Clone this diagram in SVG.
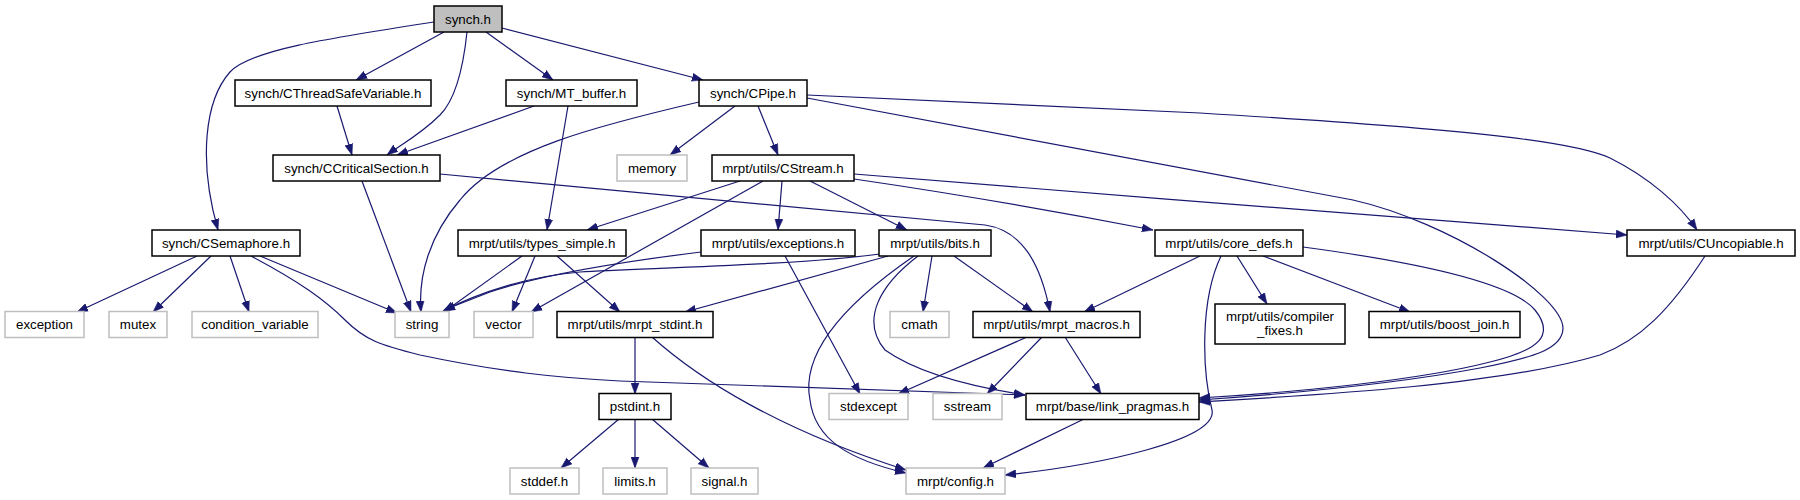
<svg xmlns="http://www.w3.org/2000/svg" width="1800" height="500" viewBox="0 0 1800 500">
<style>
.n rect{fill:#ffffff;stroke:#000000;stroke-width:1.5}
.g rect{fill:#ffffff;stroke:#bfbfbf;stroke-width:1.5}
.r rect{fill:#bfbfbf;stroke:#000000;stroke-width:1.5}
text{font-family:"Liberation Sans",Arial,sans-serif;font-size:13.33px;fill:#000000;text-anchor:middle}
#edges path{fill:none;stroke:#191970;stroke-width:1.2;marker-end:url(#ah)}
</style>
<defs>
<marker id="ah" markerUnits="userSpaceOnUse" markerWidth="11" markerHeight="9" viewBox="0 0 11 8" refX="11" refY="4" orient="auto">
<path d="M0,0 L11,4 L0,8 z" fill="#191970" stroke="#191970" stroke-width="0.5"/>
</marker>
</defs>
<rect width="1800" height="500" fill="#ffffff"/>
<g id="edges">
<path d="M434,22 C330,38 250,50 230,72 C205,100 198,160 218,230"/>
<path d="M444,32 L356,80"/>
<path d="M467,32 C463,70 455,100 440,115 C420,135 400,145 387,155"/>
<path d="M486,32 L553,80"/>
<path d="M502,28 L703,80"/>
<path d="M337,106 L352,155"/>
<path d="M534,106 L397,155"/>
<path d="M568,106 L547,230"/>
<path d="M699,102 C600,125 500,150 460,200 C430,235 418,275 421,312"/>
<path d="M735,106 L670,155"/>
<path d="M758,106 L778,155"/>
<path d="M807,98 L1353,200 C1450,222 1562,295 1563,328 C1563,350 1530,358 1480,368 C1400,383 1300,393 1199,400"/>
<path d="M807,95 L1200,113 C1450,128 1570,140 1610,158 C1650,178 1680,205 1697,230"/>
<path d="M362,181 L411,312"/>
<path d="M440,174 L985,225 C1020,230 1040,260 1050,312"/>
<path d="M740,181 L587,230"/>
<path d="M763,181 L531,312"/>
<path d="M782,181 L778,230"/>
<path d="M810,181 L907,230"/>
<path d="M854,179 C950,193 1060,212 1153,230"/>
<path d="M854,174 C1100,195 1450,220 1627,235"/>
<path d="M197,256 L77,312"/>
<path d="M211,256 L153,312"/>
<path d="M230,256 L249,312"/>
<path d="M260,256 L397,313"/>
<path d="M251,256 C300,282 325,300 345,320 C365,340 380,345 420,355 C500,372 560,378 620,381 L1025,395"/>
<path d="M522,256 L444,312"/>
<path d="M535,256 L512,312"/>
<path d="M557,256 L620,312"/>
<path d="M701,252 C620,262 540,275 490,292 L444,310"/>
<path d="M785,256 L860,394"/>
<path d="M880,254 C800,265 650,268 580,272 C530,276 480,292 443,311"/>
<path d="M888,256 L685,312"/>
<path d="M932,256 L923,312"/>
<path d="M954,256 L1033,312"/>
<path d="M918,256 C880,285 860,320 885,350 C920,375 980,388 1025,395"/>
<path d="M914,256 C850,300 800,350 810,400 C815,440 850,460 906,473"/>
<path d="M1200,256 L1084,312"/>
<path d="M1237,256 L1267,304"/>
<path d="M1263,256 L1410,312"/>
<path d="M1303,247 C1400,260 1510,280 1535,310 C1555,335 1540,350 1490,362 C1420,380 1300,392 1199,398"/>
<path d="M1221,256 C1200,300 1202,370 1212,410 C1218,440 1100,465 1005,475"/>
<path d="M1705,256 C1670,310 1640,340 1600,355 C1500,385 1320,395 1199,402"/>
<path d="M635,337 L635,394"/>
<path d="M652,337 C700,380 780,430 906,470"/>
<path d="M1027,337 L898,394"/>
<path d="M1042,337 L987,394"/>
<path d="M1065,337 L1101,394"/>
<path d="M1084,419 L983,468"/>
<path d="M619,419 L561,468"/>
<path d="M635,419 L635,468"/>
<path d="M652,419 L709,468"/>
</g>
<g id="synch_h" class="r"><rect x="434" y="6" width="68" height="26"/><text x="468" y="23.5">synch.h</text></g>
<g id="CThreadSafeVariable" class="n"><rect x="235" y="80" width="196" height="26"/><text x="333" y="97.5">synch/CThreadSafeVariable.h</text></g>
<g id="MT_buffer" class="n"><rect x="506" y="80" width="131" height="26"/><text x="571.5" y="97.5">synch/MT_buffer.h</text></g>
<g id="CPipe" class="n"><rect x="699" y="80" width="108" height="26"/><text x="753" y="97.5">synch/CPipe.h</text></g>
<g id="CCriticalSection" class="n"><rect x="273" y="155" width="167" height="26"/><text x="356.5" y="172.5">synch/CCriticalSection.h</text></g>
<g id="memory" class="g"><rect x="617" y="155" width="70" height="26"/><text x="652" y="172.5">memory</text></g>
<g id="CStream" class="n"><rect x="712" y="155" width="142" height="26"/><text x="783" y="172.5">mrpt/utils/CStream.h</text></g>
<g id="CSemaphore" class="n"><rect x="152" y="230" width="148" height="26"/><text x="226" y="247.5">synch/CSemaphore.h</text></g>
<g id="types_simple" class="n"><rect x="458" y="230" width="168" height="26"/><text x="542" y="247.5">mrpt/utils/types_simple.h</text></g>
<g id="exceptions" class="n"><rect x="701" y="230" width="154" height="26"/><text x="778" y="247.5">mrpt/utils/exceptions.h</text></g>
<g id="bits" class="n"><rect x="879" y="230" width="112" height="26"/><text x="935" y="247.5">mrpt/utils/bits.h</text></g>
<g id="core_defs" class="n"><rect x="1155" y="230" width="148" height="26"/><text x="1229" y="247.5">mrpt/utils/core_defs.h</text></g>
<g id="CUncopiable" class="n"><rect x="1627" y="230" width="168" height="26"/><text x="1711" y="247.5">mrpt/utils/CUncopiable.h</text></g>
<g id="exception" class="g"><rect x="5" y="311.5" width="79" height="26"/><text x="44.5" y="329">exception</text></g>
<g id="mutex" class="g"><rect x="109" y="311.5" width="58" height="26"/><text x="138" y="329">mutex</text></g>
<g id="condition_variable" class="g"><rect x="192" y="311.5" width="126" height="26"/><text x="255" y="329">condition_variable</text></g>
<g id="string" class="g"><rect x="395" y="311.5" width="54" height="26"/><text x="422" y="329">string</text></g>
<g id="vector" class="g"><rect x="474" y="311.5" width="59" height="26"/><text x="503.5" y="329">vector</text></g>
<g id="mrpt_stdint" class="n"><rect x="557" y="311.5" width="156" height="26"/><text x="635" y="329">mrpt/utils/mrpt_stdint.h</text></g>
<g id="cmath" class="g"><rect x="890" y="311.5" width="59" height="26"/><text x="919.5" y="329">cmath</text></g>
<g id="mrpt_macros" class="n"><rect x="973" y="311.5" width="167" height="26"/><text x="1056.5" y="329">mrpt/utils/mrpt_macros.h</text></g>
<g id="compiler_fixes" class="n"><rect x="1215" y="304" width="130" height="40"/><text x="1280" y="321">mrpt/utils/compiler</text><text x="1280" y="335">_fixes.h</text></g>
<g id="boost_join" class="n"><rect x="1369" y="311.5" width="151" height="26"/><text x="1444.5" y="329">mrpt/utils/boost_join.h</text></g>
<g id="stdexcept" class="g"><rect x="829" y="393.5" width="79" height="26"/><text x="868.5" y="411">stdexcept</text></g>
<g id="sstream" class="g"><rect x="933" y="393.5" width="69" height="26"/><text x="967.5" y="411">sstream</text></g>
<g id="link_pragmas" class="n"><rect x="1026" y="393.5" width="173" height="26"/><text x="1112.5" y="411">mrpt/base/link_pragmas.h</text></g>
<g id="pstdint" class="n"><rect x="599" y="393.5" width="72" height="26"/><text x="635" y="411">pstdint.h</text></g>
<g id="stddef" class="g"><rect x="510" y="468" width="69" height="26"/><text x="544.5" y="485.5">stddef.h</text></g>
<g id="limits" class="g"><rect x="603" y="468" width="64" height="26"/><text x="635" y="485.5">limits.h</text></g>
<g id="signal" class="g"><rect x="691" y="468" width="67" height="26"/><text x="724.5" y="485.5">signal.h</text></g>
<g id="config" class="g"><rect x="906" y="468" width="99" height="26"/><text x="955.5" y="485.5">mrpt/config.h</text></g>
</svg>
